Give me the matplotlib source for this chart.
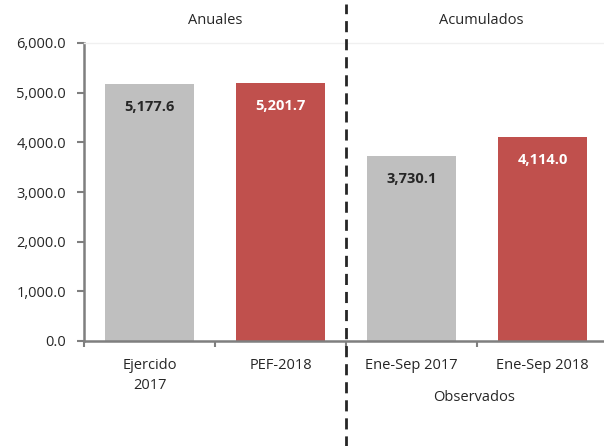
import matplotlib
matplotlib.use("Agg")
import matplotlib.pyplot as plt
from matplotlib.ticker import FuncFormatter
import matplotlib.transforms as mtransforms

# ========== DATA ==========
categories = ["Ejercido\n2017", "PEF-2018", "Ene-Sep 2017", "Ene-Sep 2018"]
values = [5177.6, 5201.7, 3730.1, 4114.0]
bar_colors = ["#BFBFBF", "#C0504D", "#BFBFBF", "#C0504D"]
label_colors = ["#262626", "white", "#262626", "white"]
group_titles = ["Anuales", "Acumulados"]
sub_label = "Observados"

plt.rcParams["font.family"] = ["Open Sans", "DejaVu Sans"]
fs = 10.5

fig = plt.figure(figsize=(6.04, 4.46), dpi=100)
ax = fig.add_axes([84 / 604, 1 - 341 / 446, 524 / 604, 298 / 446])

pos = [i + 0.5 for i in range(len(values))]
ax.bar(pos, values, width=0.68, color=bar_colors, zorder=2)

for x, v, c in zip(pos, values, label_colors):
    ax.text(x, v - 470, f"{v:,.1f}", ha="center", va="center",
            fontsize=fs, fontweight="bold", color=c)

ax.set_xlim(0, 4)
ax.set_ylim(0, 6000)
ax.set_yticks(range(0, 6001, 1000))
ax.yaxis.set_major_formatter(FuncFormatter(lambda v, p: f"{v:,.1f}"))

ax.set_xticks([0, 1, 2, 3, 4])
ax.set_xticklabels([])
ax.set_xticks(pos, minor=True)
ax.set_xticklabels(categories, minor=True, linespacing=1.45)
ax.tick_params(axis="x", which="minor", length=0, pad=12, labelsize=fs, labelcolor="#262626")
ax.tick_params(axis="x", which="major", length=4, width=1.5, color="#7f7f7f", direction="out")
ax.tick_params(axis="y", length=5, width=1.5, color="#7f7f7f", pad=8, labelsize=fs, labelcolor="#262626")

ax.spines["right"].set_visible(False)
ax.spines["top"].set_color("#f0f0f0")
ax.spines["top"].set_linewidth(1)
ax.spines["left"].set_color("#7f7f7f")
ax.spines["bottom"].set_color("#7f7f7f")
ax.spines["left"].set_linewidth(1.8)
ax.spines["bottom"].set_linewidth(1.8)

# dashed separator between the two groups
ax.axvline(2, ymin=-0.36, ymax=1.13, color="#262626", linestyle=(0, (4, 2.5)),
           linewidth=2, clip_on=False, zorder=3)

trans = mtransforms.blended_transform_factory(ax.transData, ax.transAxes)
ax.text(1.0, 1.077, group_titles[0], transform=trans, ha="center", va="center",
        fontsize=fs, color="#262626")
ax.text(3.03, 1.077, group_titles[1], transform=trans, ha="center", va="center",
        fontsize=fs, color="#262626")
ax.text(2.98, -0.188, sub_label, transform=trans, ha="center", va="center",
        fontsize=fs, color="#262626")

fig.savefig("out.png", dpi=100)
